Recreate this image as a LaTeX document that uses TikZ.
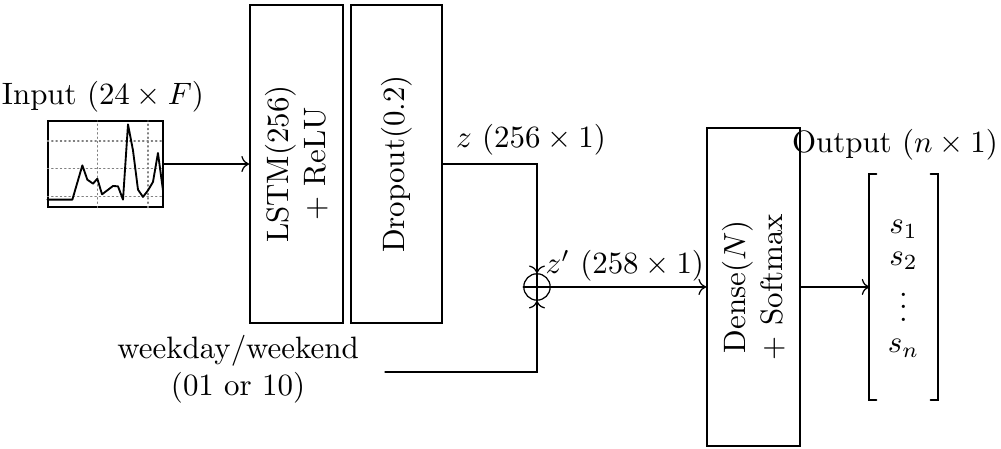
\documentclass[tikz,border=0pt]{standalone}
\usepackage{amsmath,amssymb}
\usepackage{tikz}
\usetikzlibrary{arrows.meta}

\begin{document}
\begin{tikzpicture}[line cap=round,
  layer/.style={draw,semithick,rotate=90,align=center,inner sep=0pt,minimum width=3.614cm,minimum height=1.057cm}]
\useasboundingbox (0,0) rectangle (11.375,-5.091);
\node (inlabel) at (1.17,-1.102) {Input $(24\times F)$};
\node[draw,inner sep=0pt,minimum width=1.307cm,minimum height=0.977cm] (plot) at (1.199,-1.864) {};
\begin{scope}[shift={(plot.south west)},x=0.01136cm,y=0.01136cm]
\draw[gray,densely dotted] (0,11.3) -- (115.7,11.3) (0,39) -- (115.7,39) (0,66.7) -- (115.7,66.7);
\draw[gray,densely dotted] (50,0) -- (50,86.7) (100.7,0) -- (100.7,86.7);
\draw[semithick,line join=round] (0,8) -- (25,8) -- (35,42.3) -- (40,28) -- (45.7,24) -- (50,29) -- (54.7,13.3) -- (65.7,21.7) -- (70.7,21.3) -- (75.7,8) -- (80.7,83.3) -- (85.7,57.3) -- (90.7,18) -- (95.7,10.7) -- (100.7,17.3) -- (105.7,25.7) -- (110.7,54.7) -- (115.7,17.3);
\end{scope}
\node[layer] (lstm) at (3.369,-1.864) {LSTM(256)\\+ ReLU};
\node[layer,minimum height=1.034cm] (drop) at (4.506,-1.864) {Dropout(0.2)};
\node[circle,draw,inner sep=0pt,minimum size=0.3cm] (add) at (6.102,-3.261) {};
\draw (add.north) -- (add.south) (add.west) -- (add.east);
\node[layer] (dense) at (8.563,-3.261) {Dense($N$)\\+ Softmax};
\node[inner sep=0pt,minimum width=0.761cm,minimum height=2.557cm] (out) at (10.267,-3.261) {\renewcommand{\arraystretch}{0.85}$\begin{array}{c} s_1\\ s_2\\ \vdots\\ s_n \end{array}$};
\draw[semithick] ([xshift=0.08cm]out.north west) -- (out.north west) -- (out.south west) -- ++(0.08,0);
\draw[semithick] ([xshift=-0.08cm]out.north east) -- (out.north east) -- (out.south east) -- ++(-0.08,0);
\node (outlabel) at (10.17,-1.648) {Output $(n\times 1)$};
\node (zlabel) at (6.034,-1.591) {$z$ $(256\times 1)$};
\node (zplabel) at (7.1,-3.023) {$z'$ $(258\times 1)$};
\node[align=center] (wday) at (2.705,-4.193) {weekday/weekend\\(01 or 10)};
\coordinate (wk) at (4.375,-4.227);
\draw[->] (plot) -- (lstm);
\draw[->] (drop.south) -| (add);
\draw[->] (wk) -| (add);
\draw[->] (add) -- (dense);
\draw[->] (dense) -- (out);
\end{tikzpicture}
\end{document}
